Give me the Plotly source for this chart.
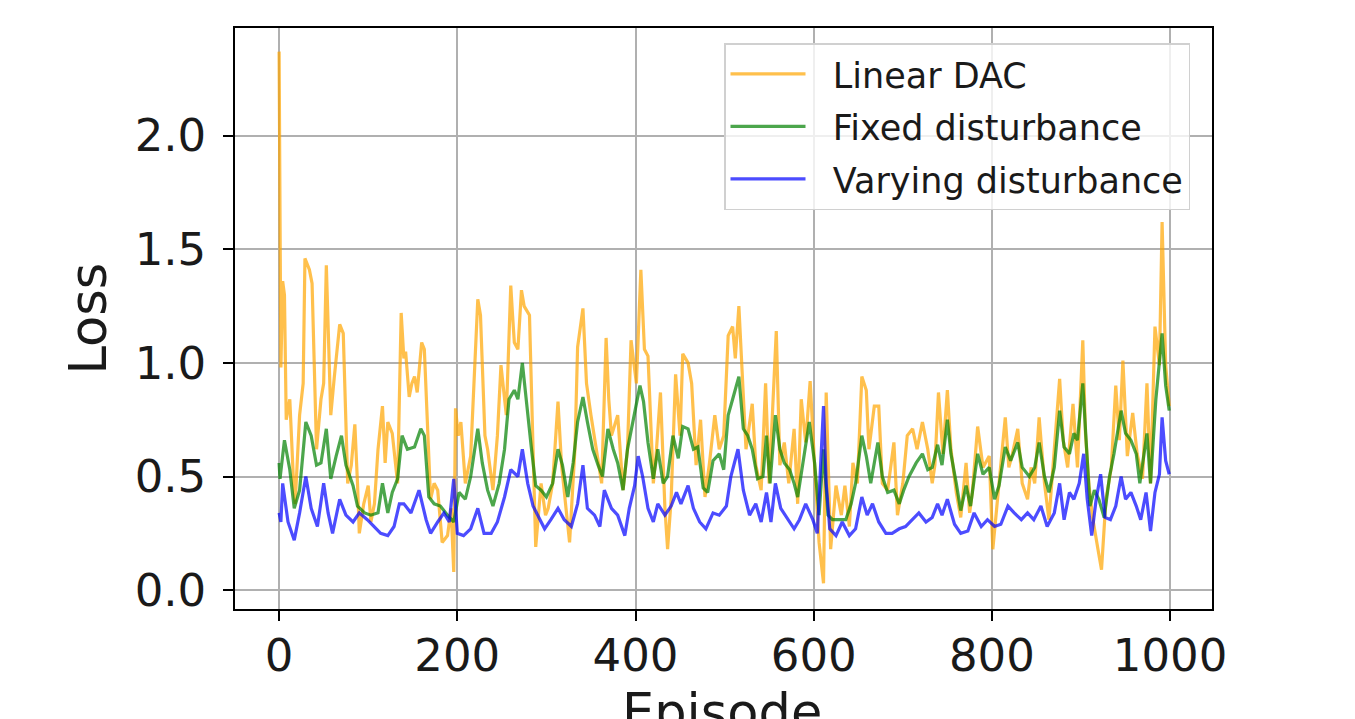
import plotly.graph_objects as go

# ---- data ----
dac_ep = [0, 2, 4, 6, 8, 12, 16, 18, 23, 27, 29, 34, 37, 40, 42, 47, 50, 53, 56, 58, 62, 68, 72, 74, 77, 81, 85, 88, 90, 95, 100, 103, 107, 111, 116, 119, 122, 127, 133, 137, 140, 142, 146, 149, 152, 155, 160, 163, 167, 170, 174, 178, 183, 189, 193, 196, 198, 201, 204, 209, 215, 223, 226, 228, 231, 234, 240, 245, 249, 255, 260, 262, 264, 268, 272, 275, 281, 285, 288, 294, 299, 302, 307, 313, 317, 322, 326, 332, 335, 341, 345, 350, 356, 362, 367, 370, 373, 380, 386, 391, 395, 401, 406, 410, 414, 420, 423, 428, 433, 436, 440, 445, 450, 453, 459, 463, 468, 473, 478, 483, 489, 494, 499, 504, 509, 512, 516, 520, 524, 531, 535, 541, 546, 550, 558, 562, 567, 572, 578, 582, 586, 591, 596, 601, 606, 611, 614, 619, 625, 631, 635, 640, 644, 649, 654, 659, 662, 668, 673, 677, 683, 690, 694, 700, 705, 711, 716, 722, 728, 733, 736, 740, 745, 750, 754, 760, 765, 771, 775, 778, 784, 790, 797, 801, 806, 810, 815, 819, 823, 829, 834, 840, 844, 848, 853, 859, 864, 870, 876, 880, 885, 891, 896, 902, 905, 909, 913, 919, 923, 928, 934, 939, 943, 947, 952, 958, 963, 969, 974, 978, 983, 988, 991, 995, 999]
dac_loss = [2.37, 0.98, 1.36, 1.30, 0.75, 0.84, 0.49, 0.38, 0.77, 0.91, 1.46, 1.41, 1.35, 0.84, 0.62, 0.84, 0.91, 1.43, 0.99, 0.77, 0.94, 1.17, 1.13, 0.84, 0.47, 0.55, 0.73, 0.47, 0.25, 0.38, 0.46, 0.30, 0.38, 0.62, 0.81, 0.56, 0.74, 0.69, 0.47, 1.22, 1.02, 1.05, 0.85, 0.91, 0.94, 0.87, 1.09, 1.06, 0.68, 0.40, 0.47, 0.44, 0.21, 0.24, 0.36, 0.08, 0.80, 0.68, 0.74, 0.47, 0.59, 1.28, 1.21, 1.02, 0.68, 0.62, 0.44, 0.68, 0.99, 0.77, 1.34, 1.21, 1.09, 1.06, 1.32, 1.25, 1.21, 0.62, 0.19, 0.47, 0.33, 0.36, 0.47, 0.83, 0.55, 0.36, 0.21, 0.62, 1.07, 1.24, 0.91, 0.77, 0.62, 0.47, 1.11, 0.84, 0.68, 0.77, 0.44, 0.62, 1.10, 0.91, 1.41, 1.06, 1.03, 0.47, 0.59, 0.87, 0.36, 0.18, 0.40, 0.95, 0.68, 1.04, 1.00, 0.91, 0.55, 0.75, 0.41, 0.56, 0.77, 0.62, 0.68, 1.12, 1.16, 1.02, 1.25, 0.91, 0.62, 0.82, 0.55, 0.44, 0.91, 0.47, 1.14, 0.55, 0.65, 0.47, 0.71, 0.38, 0.84, 0.65, 0.92, 0.55, 0.21, 0.03, 0.87, 0.18, 0.46, 0.33, 0.46, 0.28, 0.56, 0.47, 0.94, 0.88, 0.62, 0.81, 0.81, 0.47, 0.44, 0.65, 0.33, 0.47, 0.68, 0.71, 0.62, 0.74, 0.62, 0.47, 0.55, 0.87, 0.60, 0.88, 0.62, 0.43, 0.32, 0.56, 0.34, 0.43, 0.72, 0.54, 0.59, 0.18, 0.40, 0.54, 0.76, 0.54, 0.60, 0.71, 0.47, 0.40, 0.54, 0.47, 0.76, 0.47, 0.31, 0.62, 0.93, 0.66, 0.54, 0.82, 0.54, 1.10, 0.69, 0.46, 0.32, 0.18, 0.09, 0.40, 0.54, 0.90, 0.66, 1.01, 0.59, 0.78, 0.60, 0.49, 0.91, 0.47, 1.16, 0.99, 1.62, 0.99, 0.81]

fixed_ep = [0, 1, 6, 12, 17, 23, 30, 36, 42, 47, 53, 58, 64, 70, 75, 83, 88, 96, 103, 111, 116, 122, 127, 133, 138, 144, 152, 159, 163, 168, 174, 181, 189, 196, 202, 209, 215, 223, 228, 234, 240, 247, 253, 258, 264, 268, 273, 277, 283, 288, 294, 300, 307, 313, 318, 324, 330, 335, 341, 346, 352, 358, 363, 369, 375, 380, 386, 391, 399, 405, 409, 414, 420, 425, 431, 436, 442, 448, 453, 459, 465, 470, 476, 481, 487, 494, 499, 504, 509, 516, 521, 526, 531, 537, 543, 547, 551, 557, 562, 567, 573, 578, 582, 588, 595, 601, 606, 611, 616, 621, 629, 636, 642, 647, 654, 659, 664, 672, 677, 683, 690, 696, 701, 707, 715, 722, 728, 733, 739, 744, 750, 754, 760, 765, 771, 776, 784, 790, 797, 803, 808, 815, 821, 829, 834, 842, 848, 853, 859, 864, 870, 876, 881, 887, 892, 896, 902, 905, 910, 915, 920, 926, 932, 937, 945, 950, 956, 962, 966, 974, 978, 984, 991, 995, 999]
fixed_loss = [0.56, 0.49, 0.66, 0.53, 0.36, 0.44, 0.74, 0.68, 0.55, 0.56, 0.71, 0.49, 0.59, 0.68, 0.55, 0.46, 0.37, 0.34, 0.33, 0.34, 0.47, 0.34, 0.43, 0.49, 0.68, 0.62, 0.63, 0.71, 0.68, 0.41, 0.38, 0.37, 0.33, 0.30, 0.43, 0.40, 0.50, 0.71, 0.56, 0.44, 0.37, 0.47, 0.62, 0.84, 0.88, 0.84, 1.00, 0.84, 0.63, 0.46, 0.44, 0.41, 0.47, 0.62, 0.55, 0.41, 0.56, 0.74, 0.85, 0.74, 0.62, 0.55, 0.50, 0.71, 0.62, 0.56, 0.44, 0.62, 0.78, 0.90, 0.83, 0.65, 0.49, 0.62, 0.47, 0.50, 0.68, 0.58, 0.72, 0.71, 0.62, 0.63, 0.45, 0.43, 0.57, 0.60, 0.53, 0.77, 0.84, 0.94, 0.71, 0.68, 0.62, 0.49, 0.50, 0.68, 0.47, 0.77, 0.62, 0.56, 0.53, 0.47, 0.41, 0.56, 0.74, 0.56, 0.33, 0.62, 0.33, 0.31, 0.31, 0.31, 0.38, 0.47, 0.68, 0.59, 0.47, 0.65, 0.50, 0.43, 0.44, 0.38, 0.44, 0.50, 0.56, 0.60, 0.53, 0.54, 0.64, 0.55, 0.75, 0.60, 0.47, 0.35, 0.46, 0.37, 0.60, 0.51, 0.54, 0.40, 0.46, 0.63, 0.57, 0.65, 0.54, 0.50, 0.54, 0.65, 0.50, 0.43, 0.54, 0.79, 0.63, 0.60, 0.69, 0.66, 0.91, 0.69, 0.37, 0.44, 0.40, 0.32, 0.50, 0.60, 0.79, 0.69, 0.66, 0.60, 0.47, 0.69, 0.47, 0.84, 1.13, 0.90, 0.79]

vary_ep = [0, 2, 4, 10, 17, 23, 30, 36, 43, 50, 55, 60, 68, 75, 83, 90, 99, 107, 114, 122, 129, 135, 140, 148, 157, 165, 170, 178, 185, 191, 196, 200, 207, 215, 223, 230, 238, 245, 253, 260, 268, 273, 279, 285, 290, 298, 305, 313, 320, 328, 335, 341, 346, 354, 360, 365, 373, 380, 388, 393, 399, 403, 408, 414, 420, 425, 433, 440, 446, 451, 459, 465, 472, 479, 487, 494, 502, 507, 515, 521, 528, 535, 541, 547, 552, 557, 563, 571, 578, 584, 591, 599, 604, 611, 614, 618, 625, 632, 640, 647, 654, 660, 666, 673, 681, 688, 696, 703, 711, 718, 726, 733, 739, 744, 750, 758, 765, 773, 780, 788, 795, 803, 810, 818, 825, 833, 840, 847, 855, 862, 870, 876, 881, 887, 892, 898, 903, 907, 912, 917, 922, 927, 933, 939, 945, 950, 956, 962, 967, 973, 978, 983, 988, 991, 995, 999]
vary_loss = [0.34, 0.30, 0.47, 0.30, 0.22, 0.34, 0.50, 0.36, 0.28, 0.47, 0.34, 0.25, 0.40, 0.33, 0.30, 0.34, 0.31, 0.28, 0.25, 0.24, 0.28, 0.38, 0.38, 0.34, 0.44, 0.31, 0.25, 0.30, 0.34, 0.30, 0.49, 0.25, 0.24, 0.27, 0.36, 0.25, 0.25, 0.30, 0.41, 0.53, 0.50, 0.62, 0.47, 0.37, 0.33, 0.27, 0.31, 0.36, 0.31, 0.28, 0.38, 0.55, 0.36, 0.33, 0.28, 0.44, 0.36, 0.33, 0.24, 0.36, 0.46, 0.59, 0.50, 0.36, 0.30, 0.38, 0.33, 0.37, 0.43, 0.38, 0.46, 0.36, 0.30, 0.27, 0.34, 0.33, 0.37, 0.50, 0.62, 0.44, 0.33, 0.38, 0.30, 0.43, 0.30, 0.47, 0.36, 0.31, 0.27, 0.31, 0.38, 0.31, 0.25, 0.81, 0.47, 0.27, 0.24, 0.30, 0.24, 0.27, 0.41, 0.33, 0.38, 0.30, 0.25, 0.25, 0.27, 0.28, 0.31, 0.34, 0.30, 0.32, 0.38, 0.33, 0.40, 0.29, 0.25, 0.26, 0.34, 0.28, 0.31, 0.28, 0.29, 0.37, 0.34, 0.31, 0.34, 0.31, 0.37, 0.28, 0.34, 0.47, 0.31, 0.43, 0.40, 0.47, 0.60, 0.40, 0.24, 0.40, 0.51, 0.32, 0.31, 0.37, 0.50, 0.40, 0.43, 0.37, 0.31, 0.43, 0.26, 0.43, 0.51, 0.76, 0.57, 0.51]

x_ticks = [0, 200, 400, 600, 800, 1000]
y_ticks = [0.0, 0.5, 1.0, 1.5, 2.0]
y_tick_text = ["0.0", "0.5", "1.0", "1.5", "2.0"]

FONT = "DejaVu Sans"
PAD = "\u00a0\u00a0"

fig = go.Figure()
fig.add_trace(go.Scatter(x=dac_ep, y=dac_loss, mode="lines", name=PAD + "Linear DAC",
                         legendgroup="a",
                         line=dict(color="rgba(255,165,0,0.7)", width=3.2)))
fig.add_trace(go.Scatter(x=fixed_ep, y=fixed_loss, mode="lines", name=PAD + "Fixed disturbance",
                         legendgroup="b",
                         line=dict(color="rgba(0,128,0,0.7)", width=3.2)))
fig.add_trace(go.Scatter(x=vary_ep, y=vary_loss, mode="lines", name=PAD + "Varying disturbance",
                         legendgroup="c",
                         line=dict(color="rgba(0,0,255,0.7)", width=3.2)))

axis_common = dict(
    showline=True, mirror=True, linecolor="black", linewidth=1.5,
    ticks="outside", ticklen=10, tickwidth=1.5, tickcolor="black",
    showgrid=True, gridcolor="#b0b0b0", gridwidth=1.5,
    zeroline=False,
    tickfont=dict(family=FONT, size=45, color="#1a1a1a"),
)

fig.update_layout(
    width=1355, height=719,
    margin=dict(l=235, r=143, t=28, b=110),
    paper_bgcolor="white", plot_bgcolor="white",
    font=dict(family=FONT, color="#1a1a1a"),
    xaxis=dict(range=[-49.5, 1047], tickvals=x_ticks, ticktext=[str(v) for v in x_ticks],
               automargin=False, ticklabelstandoff=-4, **axis_common),
    yaxis=dict(range=[-0.083, 2.474], tickvals=y_ticks, ticktext=y_tick_text,
               title=dict(text="Loss", font=dict(family=FONT, size=51), standoff=12),
               automargin=False, ticklabelstandoff=8, **axis_common),
    legend=dict(x=(1190 - 235) / 977, y=0.974, xanchor="right", yanchor="top",
                bgcolor="rgba(255,255,255,0.8)", bordercolor="#d0d0d0", borderwidth=1.5,
                font=dict(family=FONT, size=35, color="#1a1a1a"),
                itemwidth=75, tracegroupgap=4),
    showlegend=True,
    annotations=[dict(text="Episode", xref="paper", yref="paper",
                      x=0.498, y=(609 - 712) / 581, xanchor="center", yanchor="middle",
                      showarrow=False, font=dict(family=FONT, size=51, color="#1a1a1a"))],
)

fig.write_html("out.html")
